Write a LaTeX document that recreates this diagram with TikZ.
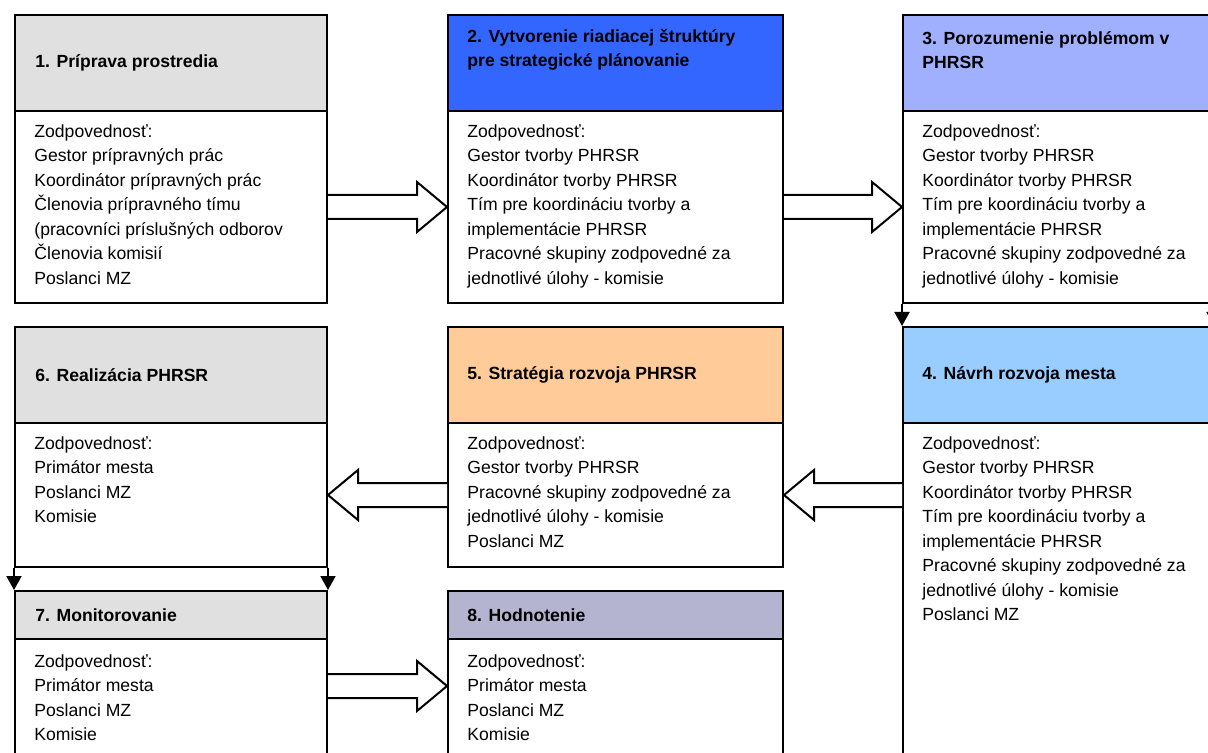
\documentclass[tikz,border=0pt]{standalone}
\usepackage{fontspec}
\setmainfont{Liberation Sans}
\usetikzlibrary{arrows.meta,calc}

\definecolor{headgray}{RGB}{224,224,224}
\definecolor{headblue}{RGB}{51,102,255}
\definecolor{headperi}{RGB}{160,176,255}
\definecolor{headsky}{RGB}{153,204,255}
\definecolor{headpeach}{RGB}{255,204,153}
\definecolor{headlav}{RGB}{180,180,208}

\tikzset{
  cell/.style={draw, line width=1pt, anchor=north west, inner sep=0pt},
  narrowcell/.style={cell, minimum width=156pt},
  edgecell/.style={cell, minimum width=155pt},
  widecell/.style={cell, minimum width=167.5pt},
  headtxt/.style={anchor=west, inner sep=0pt, align=left, font=\bfseries\fontsize{8.8}{12}\selectfont},
  bodytxt/.style={anchor=north west, inner sep=0pt, align=left, font=\fontsize{8.8}{12.25}\selectfont},
  fatarrow/.style={line width=1pt, fill=white, to path={
    let \p1=(\tikztostart), \p2=(\tikztotarget), \n1={sign(\x2-\x1)} in
    (\x1,\y1+6pt) -- (\x2-\n1*15pt,\y1+6pt) -- (\x2-\n1*15pt,\y1+12.5pt)
    -- (\x2,\y1) -- (\x2-\n1*15pt,\y1-12.5pt) -- (\x2-\n1*15pt,\y1-6pt) -- (\x1,\y1-6pt)}},
  droparrow/.style={line width=1pt, -{Triangle[width=7.5pt,length=7pt]}}
}

\begin{document}
\begin{tikzpicture}[x=0.5pt, y=-0.5pt]

\useasboundingbox (0,0) rectangle (1208,753);
\clip (0,0) rectangle (1208,753);

% Row 1
\node[narrowcell, fill=headgray, minimum height=48pt] (h1) at (14,14) {};
\node[narrowcell, minimum height=96pt] (b1) at (14,110) {};
\node[widecell, fill=headblue, minimum height=48pt] (h2) at (447,14) {};
\node[widecell, minimum height=96pt] (b2) at (447,110) {};
\node[edgecell, fill=headperi, minimum height=48pt] (h3) at (902,14) {};
\node[edgecell, minimum height=96pt] (b3) at (902,110) {};

% Row 2
\node[narrowcell, fill=headgray, minimum height=48pt] (h6) at (14,326) {};
\node[narrowcell, minimum height=72pt] (b6) at (14,422) {};
\node[widecell, fill=headpeach, minimum height=48pt] (h5) at (447,326) {};
\node[widecell, minimum height=72pt] (b5) at (447,422) {};
\node[edgecell, fill=headsky, minimum height=48pt] (h4) at (902,326) {};
\node[edgecell, minimum height=190pt] (b4) at (902,422) {};

% Row 3
\node[narrowcell, fill=headgray, minimum height=24pt] (h7) at (14,590) {};
\node[narrowcell, minimum height=82pt] (b7) at (14,638) {};
\node[widecell, fill=headlav, minimum height=24pt] (h8) at (447,590) {};
\node[widecell, minimum height=82pt] (b8) at (447,638) {};

% Titles
\node[headtxt] (t1) at ($(h1.west)+(10.5pt,0)$) {1. Príprava prostredia};
\node[headtxt] (t2) at ($(h2.north west)+(10pt,-18pt)$) {2. Vytvorenie riadiacej štruktúry\\pre strategické plánovanie};
\node[headtxt] (t3) at ($(h3.north west)+(10pt,-18pt)$) {3. Porozumenie problémom v\\PHRSR};
\node[headtxt] (t4) at ($(h4.west)+(10pt,0)$) {4. Návrh rozvoja mesta};
\node[headtxt] (t5) at ($(h5.west)+(10pt,0)$) {5. Stratégia rozvoja PHRSR};
\node[headtxt] (t6) at ($(h6.west)+(10.5pt,0)$) {6. Realizácia PHRSR};
\node[headtxt] (t7) at ($(h7.west)+(10.5pt,0)$) {7. Monitorovanie};
\node[headtxt] (t8) at ($(h8.west)+(10pt,0)$) {8. Hodnotenie};

% Responsibilities
\node[bodytxt] (r1) at ($(b1.north west)+(10pt,-7pt)$) {Zodpovednosť:\\Gestor prípravných prác\\Koordinátor prípravných prác\\Členovia prípravného tímu\\(pracovníci príslušných odborov\\Členovia komisií\\Poslanci MZ};
\node[bodytxt] (r2) at ($(b2.north west)+(10pt,-7pt)$) {Zodpovednosť:\\Gestor tvorby PHRSR\\Koordinátor tvorby PHRSR\\Tím pre koordináciu tvorby a\\implementácie PHRSR\\Pracovné skupiny zodpovedné za\\jednotlivé úlohy - komisie};
\node[bodytxt] (r3) at ($(b3.north west)+(10pt,-7pt)$) {Zodpovednosť:\\Gestor tvorby PHRSR\\Koordinátor tvorby PHRSR\\Tím pre koordináciu tvorby a\\implementácie PHRSR\\Pracovné skupiny zodpovedné za\\jednotlivé úlohy - komisie};
\node[bodytxt] (r4) at ($(b4.north west)+(10pt,-7pt)$) {Zodpovednosť:\\Gestor tvorby PHRSR\\Koordinátor tvorby PHRSR\\Tím pre koordináciu tvorby a\\implementácie PHRSR\\Pracovné skupiny zodpovedné za\\jednotlivé úlohy - komisie\\Poslanci MZ};
\node[bodytxt] (r5) at ($(b5.north west)+(10pt,-7pt)$) {Zodpovednosť:\\Gestor tvorby PHRSR\\Pracovné skupiny zodpovedné za\\jednotlivé úlohy - komisie\\Poslanci MZ};
\node[bodytxt] (r6) at ($(b6.north west)+(10pt,-7pt)$) {Zodpovednosť:\\Primátor mesta\\Poslanci MZ\\Komisie};
\node[bodytxt] (r7) at ($(b7.north west)+(10pt,-8pt)$) {Zodpovednosť:\\Primátor mesta\\Poslanci MZ\\Komisie};
\node[bodytxt] (r8) at ($(b8.north west)+(10pt,-8pt)$) {Zodpovednosť:\\Primátor mesta\\Poslanci MZ\\Komisie};

% Block arrows
\coordinate (m7) at ($(b7.north east)+(0,-24pt)$);
\draw[fatarrow] (b1.east) to (b2.west);
\draw[fatarrow] (b2.east) to (b3.west);
\draw[fatarrow] (b4.west |- b5.east) to (b5.east);
\draw[fatarrow] (b5.west) to (b6.east);
\draw[fatarrow] (m7) to (m7 -| b8.west);

% Small arrows down
\draw[droparrow] (b3.south west) -- (h4.north west);
\draw[droparrow] (b3.south east) -- (h4.north east);
\draw[droparrow] (b6.south west) -- (h7.north west);
\draw[droparrow] (b6.south east) -- (h7.north east);

\end{tikzpicture}
\end{document}
